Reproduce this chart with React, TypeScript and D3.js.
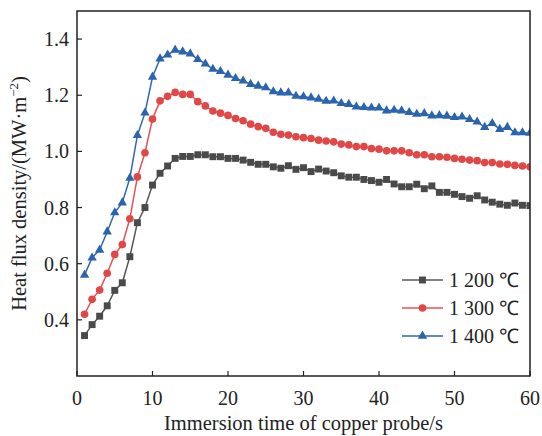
import React from "react";
import * as d3 from "d3";

const times: number[] = Array.from({ length: 60 }, (_, i) => i + 1);

const s1200: number[] = [
  0.344, 0.383, 0.413, 0.45, 0.505, 0.532, 0.625, 0.746, 0.8, 0.88,
  0.922, 0.948, 0.975, 0.982, 0.982, 0.988, 0.988, 0.981, 0.981, 0.975,
  0.975, 0.969, 0.961, 0.954, 0.954, 0.945, 0.94, 0.949, 0.936, 0.942,
  0.928, 0.937, 0.93, 0.924, 0.913, 0.908, 0.908, 0.9, 0.896, 0.89,
  0.9, 0.884, 0.874, 0.874, 0.883, 0.867, 0.877, 0.854, 0.854, 0.847,
  0.839, 0.833, 0.842, 0.827, 0.819, 0.812, 0.808, 0.816, 0.808, 0.807,
];
const s1300: number[] = [
  0.42, 0.473, 0.506, 0.566, 0.633, 0.668, 0.76, 0.909, 0.995, 1.115,
  1.18, 1.196, 1.21, 1.203, 1.203, 1.177, 1.162, 1.144, 1.136, 1.128,
  1.117, 1.109, 1.097, 1.088, 1.082, 1.068, 1.061, 1.058, 1.052, 1.049,
  1.046, 1.04, 1.037, 1.034, 1.026, 1.023, 1.017, 1.017, 1.01, 1.008,
  1.002, 1.002, 1.002, 0.995, 0.988, 0.988, 0.981, 0.981, 0.979, 0.975,
  0.972, 0.969, 0.967, 0.96, 0.96, 0.955, 0.954, 0.95, 0.948, 0.945,
];
const s1400: number[] = [
  0.56, 0.621, 0.649, 0.714, 0.782, 0.817, 0.905, 1.057, 1.137, 1.265,
  1.33, 1.344, 1.361, 1.355, 1.348, 1.328, 1.312, 1.293, 1.285, 1.272,
  1.26, 1.251, 1.239, 1.233, 1.227, 1.213, 1.209, 1.209, 1.197, 1.195,
  1.191, 1.186, 1.179, 1.18, 1.171, 1.168, 1.159, 1.157, 1.155, 1.155,
  1.145, 1.147, 1.145, 1.139, 1.133, 1.135, 1.127, 1.128, 1.126, 1.121,
  1.123, 1.114, 1.105, 1.086, 1.1, 1.079, 1.086, 1.067, 1.067, 1.065,
];

const seriesNames: string[] = ["1 200 ℃", "1 300 ℃", "1 400 ℃"];
const xTicks: number[] = [0, 10, 20, 30, 40, 50, 60];
const yTicks: number[] = [0.4, 0.6, 0.8, 1.0, 1.2, 1.4];

const W = 542, H = 436;
const L = 77, R = 530, T = 11, B = 376;
const FONT = "'Liberation Serif', 'Times New Roman', serif";

export default function App() {
  const x = d3.scaleLinear().domain([0, 60]).range([L, R]);
  const y = d3.scaleLinear().domain([0.2, 1.5]).range([B, T]);

  const series = [
    { name: seriesNames[0], data: s1200, color: "#4a4a4a", line: "#555555", sym: d3.symbolSquare, size: 48 },
    { name: seriesNames[1], data: s1300, color: "#e04848", line: "#e55353", sym: d3.symbolCircle, size: 46 },
    { name: seriesNames[2], data: s1400, color: "#2a63ae", line: "#3166b0", sym: d3.symbolTriangle, size: 38 },
  ];

  const line = d3.line<number>().x((_, i) => x(times[i])).y((d) => y(d));

  return (
    <svg width={W} height={H} style={{ position: "absolute", left: 0, top: 0, background: "#fff" }} fontFamily={FONT}>
      <defs>
        <clipPath id="plotclip">
          <rect x={L} y={T} width={R - L} height={B - T} />
        </clipPath>
      </defs>
      <rect x={0} y={0} width={W} height={H} fill="#fff" />
      <g clipPath="url(#plotclip)">
        {series.map((s, si) => (
          <g key={si}>
            <path d={line(s.data) || ""} fill="none" stroke={s.line} strokeWidth={1.5} />
            {s.data.map((v, i) => (
              <path
                key={i}
                d={d3.symbol().type(s.sym).size(s.size)() || ""}
                transform={`translate(${x(times[i])},${y(v)})`}
                fill={s.color}
              />
            ))}
          </g>
        ))}
      </g>
      {/* frame */}
      <rect x={L} y={T} width={R - L} height={B - T} fill="none" stroke="#222" strokeWidth={1.5} />
      {/* x ticks */}
      {xTicks.map((t) => (
        <g key={"x" + t}>
          <line x1={x(t)} x2={x(t)} y1={B} y2={B - 5} stroke="#222" strokeWidth={1.2} />
          <text x={x(t)} y={405} textAnchor="middle" fontSize={20} fill="#222">{t}</text>
        </g>
      ))}
      {yTicks.map((t) => (
        <g key={"y" + t}>
          <line x1={L} x2={L + 5} y1={y(t)} y2={y(t)} stroke="#222" strokeWidth={1.2} />
          <text x={69} y={y(t) + 7} textAnchor="end" fontSize={20} fill="#222">{t.toFixed(1)}</text>
        </g>
      ))}
      <text x={(L + R) / 2} y={430} textAnchor="middle" fontSize={20.5} fill="#222">Immersion time of copper probe/s</text>
      <text transform={`translate(26,${(T + B) / 2}) rotate(-90)`} textAnchor="middle" fontSize={20.5} fill="#222">
        Heat flux density/(MW·m<tspan dy={-8} fontSize={13}>−2</tspan><tspan dy={8}>)</tspan>
      </text>
      {/* legend */}
      {series.map((s, si) => {
        const ly = 280 + si * 28;
        return (
          <g key={"l" + si}>
            <line x1={402} x2={443} y1={ly} y2={ly} stroke={s.line} strokeWidth={1.5} />
            <path d={d3.symbol().type(s.sym).size(s.size)() || ""} transform={`translate(422.5,${ly})`} fill={s.color} />
            <text x={449} y={ly + 7} fontSize={20} fill="#222">{s.name}</text>
          </g>
        );
      })}
    </svg>
  );
}
